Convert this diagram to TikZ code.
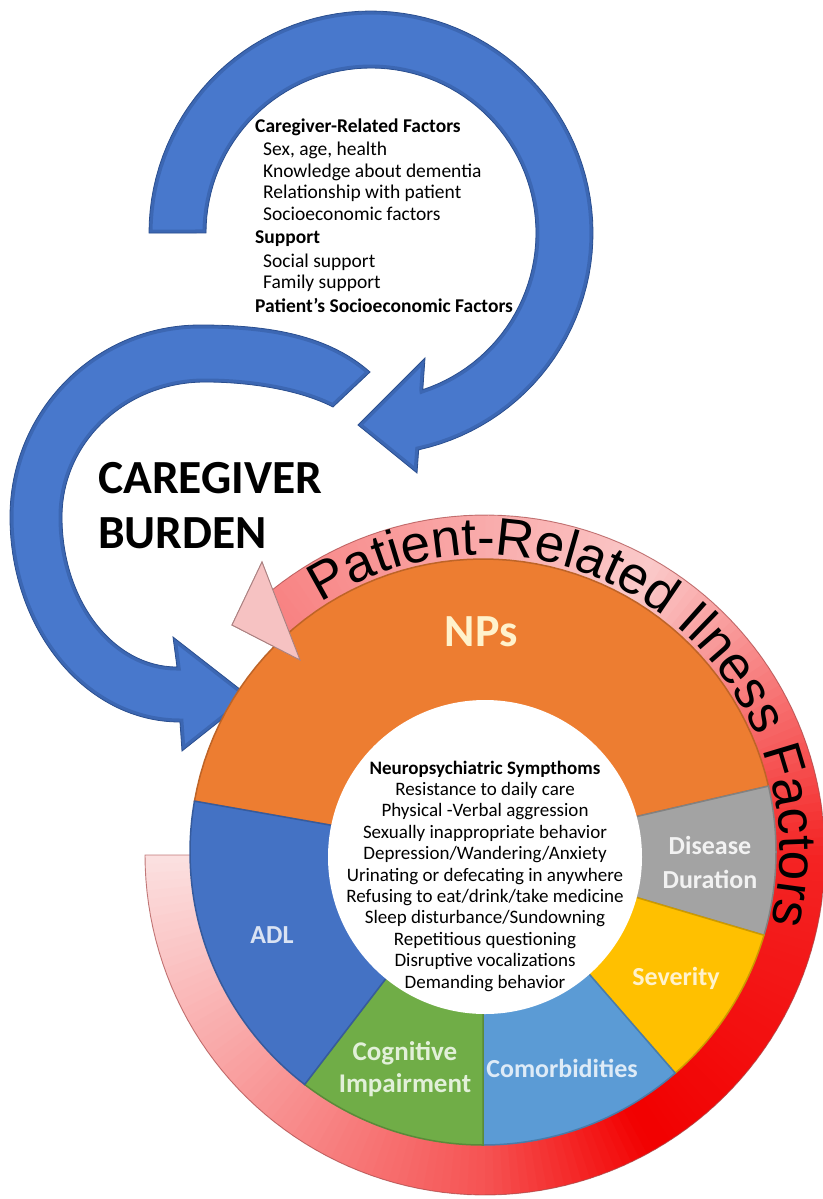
\documentclass[tikz,border=0pt]{standalone}
\usepackage{fontspec}
\setmainfont{Carlito}
\newfontfamily\ringfont{Liberation Sans}
\usetikzlibrary{decorations.text}

\definecolor{arrowblue}{HTML}{4878CC}
\definecolor{arrowdark}{HTML}{2B4F8F}
\definecolor{npsorange}{HTML}{ED7D31}
\definecolor{ddgrey}{HTML}{A3A3A3}
\definecolor{sevyellow}{HTML}{FFC000}
\definecolor{comblue}{HTML}{5B9BD5}
\definecolor{cogreen}{HTML}{70AD47}
\definecolor{adlblue}{HTML}{4472C4}
\definecolor{ringlight}{HTML}{FCEDED}
\definecolor{ringred}{HTML}{F20000}
\definecolor{ringedge}{HTML}{A84848}
\definecolor{headpink}{HTML}{F6C2C2}
\definecolor{headedge}{HTML}{A98282}
\definecolor{npstext}{HTML}{FFF2CC}
\definecolor{adltext}{HTML}{DAE3F3}
\definecolor{cogtext}{HTML}{E2F0D9}
\definecolor{comtext}{HTML}{DEEBF7}
\definecolor{sevtext}{HTML}{FFF2CC}
\definecolor{ddtext}{HTML}{F2F2F2}

% outlines of the three circular arrows
\newcommand\factorarrowpath{plot[domain=180:437.6,samples=90] ({371+222*cos(\x)},{233+222*sin(\x)})
  -- (417,473) -- (358,425) -- (425,358) -- (422.8,389.6)
  -- plot[domain=431.7:180,samples=90] ({371+165*cos(\x)},{233+165*sin(\x)}) -- cycle}
\newcommand\burdenarrowpath{(370,372) .. controls (325,332) and (260,325) .. (200,325)
  .. controls (95,325) and (10,411) .. (10,517)
  .. controls (10,630) and (86,722) .. (180,722)
  -- (182,751) -- (250,697) -- (173,637) -- (177,667)
  .. controls (113,667) and (62,600) .. (62,517)
  .. controls (62,442) and (126,382) .. (205,382)
  .. controls (250,382) and (300,390) .. (333,407) -- cycle}
\newcommand\illnessringpath{plot[domain=180:-128.7,samples=150] ({485+340*cos(\x)},{855+340*sin(\x)})
  -- (262,562) -- (232,625) -- (300,660) -- (295.4,648.2)
  -- plot[domain=-132.5:180,samples=150] ({485+280*cos(\x)},{855+280*sin(\x)}) -- cycle}

% share of red in the ring colour at angle #1
\newcommand\ringredness[1]{%
  \ifdim #1pt>90pt
    \pgfmathsetmacro\rr{5+(180-#1)*60/90}%
  \else\ifdim #1pt>60pt
    \pgfmathsetmacro\rr{65+(90-#1)*35/30}%
  \else\ifdim #1pt>0pt
    \pgfmathsetmacro\rr{100-(60-#1)*15/60}%
  \else\ifdim #1pt>-60pt
    \pgfmathsetmacro\rr{85+(#1)*70/60}%
  \else
    \pgfmathsetmacro\rr{15-(60+#1)*30/70}%
  \fi\fi\fi\fi}

\tikzset{
  cghead/.style={font=\fontsize{19.5}{22}\selectfont\bfseries, inner sep=0pt},
  cgitem/.style={font=\fontsize{19.5}{22}\selectfont, inner sep=0pt},
  nshead/.style={font=\fontsize{19}{21}\selectfont\bfseries, inner sep=0pt},
  nsitem/.style={font=\fontsize{19}{21}\selectfont, inner sep=0pt},
  burden/.style={font=\fontsize{47.5}{55}\selectfont\bfseries, inner sep=0pt},
  seglabel/.style={font=\fontsize{26}{33}\selectfont\bfseries, align=center, inner sep=0pt},
}

\begin{document}
\begin{tikzpicture}[x=1pt, y=-1pt]
\path[use as bounding box, fill=white] (0,0) rectangle (822,1199);

% caregiver-related factors arrow
\fill[arrowblue] \factorarrowpath;
\begin{scope}
  \clip \factorarrowpath;
  \draw[arrowdark, line width=7pt, opacity=.4] \factorarrowpath;
\end{scope}
\draw[arrowdark, line width=.8pt] \factorarrowpath;

% caregiver burden arrow
\fill[arrowblue] \burdenarrowpath;
\begin{scope}
  \clip \burdenarrowpath;
  \draw[arrowdark, line width=7pt, opacity=.4] \burdenarrowpath;
\end{scope}
\draw[arrowdark, line width=.8pt] \burdenarrowpath;

% patient-related illness factors ring, coloured by angle
\begin{scope}
  \clip \illnessringpath;
  \foreach \i in {0,...,224} {
    \pgfmathsetmacro\ta{180-1.5*\i}
    \pgfmathsetmacro\tb{\ta-2.1}
    \pgfmathsetmacro\tm{\ta-0.75}
    \ringredness{\tm}
    \fill[ringred!\rr!ringlight]
      ({485+350*cos(\ta)},{855+350*sin(\ta)}) -- ({485+350*cos(\tb)},{855+350*sin(\tb)})
      -- ({485+270*cos(\tb)},{855+270*sin(\tb)}) -- ({485+270*cos(\ta)},{855+270*sin(\ta)}) -- cycle;
  }
\end{scope}
\draw[ringedge, line width=.9pt, opacity=.7] \illnessringpath;

% wheel of patient-related factors
\foreach \a/\b/\c in {190/347/npsorange, -13/16.5/ddgrey, 16.5/49/sevyellow,
                      49/90/comblue, 90/127.5/cogreen, 127.5/190/adlblue}
  \filldraw[fill=\c, draw=\c!80!black, line width=1.5pt]
    (483,852) -- plot[domain=\a:\b, samples=60] ({483+293*cos(\x)},{852+293*sin(\x)}) -- cycle;
\fill[white] (485,857) circle[radius=157pt];

% arrowhead of the ring, lying over the wheel
\filldraw[fill=headpink, draw=headedge, line width=.9pt] (262,562) -- (232,625) -- (300,660) -- cycle;

% ring caption
\path[decorate, decoration={text along path, text align=center,
  text={|\ringfont\fontsize{53}{53}\selectfont|Patient-Related Ilness Factors}}]
  plot[domain=-127:18, samples=120] ({483+297*cos(\x)},{852+297*sin(\x)});

% caregiver burden
\node[burden, anchor=base west] (cb1) at (98,493) {CAREGIVER};
\node[burden, anchor=base west] (cb2) at (98,548) {BURDEN};

% caregiver-related list
\foreach \txt/\xx/\yy/\st [count=\i] in {
  {Caregiver-Related Factors}/255/132/cghead,
  {Sex, age, health}/263/155/cgitem,
  {Knowledge about dementia}/263/177/cgitem,
  {Relationship with patient}/263/198/cgitem,
  {Socioeconomic factors}/263/220/cgitem,
  {Support}/255/243/cghead,
  {Social support}/263/267/cgitem,
  {Family support}/263/288/cgitem,
  {Patient's Socioeconomic Factors}/255/312/cghead}
  \node[\st, anchor=base west] (cg\i) at (\xx,\yy) {\txt};

% neuropsychiatric symptoms
\node[nshead, anchor=base] (ns0) at (485,774) {Neuropsychiatric Sympthoms};
\foreach \txt [count=\i] in {
  Resistance to daily care,
  Physical -Verbal aggression,
  Sexually inappropriate behavior,
  Depression/Wandering/Anxiety,
  Urinating or defecating in anywhere,
  Refusing to eat/drink/take medicine,
  Sleep disturbance/Sundowning,
  Repetitious questioning,
  Disruptive vocalizations,
  Demanding behavior}
  \node[nsitem, anchor=base] (ns\i) at (485,{774+21.4*\i}) {\txt};

% segment labels
\node[seglabel, text=npstext, font=\fontsize{46}{50}\selectfont\bfseries] (nps) at (481,632) {NPs};
\node[seglabel, text=ddtext, font=\fontsize{26}{34}\selectfont\bfseries] (dd) at (710,862) {Disease\\Duration};
\node[seglabel, text=sevtext] (sev) at (676,978) {Severity};
\node[seglabel, text=comtext] (com) at (562,1068) {Comorbidities};
\node[seglabel, text=cogtext, font=\fontsize{27}{32}\selectfont\bfseries] (cog) at (405,1069) {Cognitive\\Impairment};
\node[seglabel, text=adltext] (adl) at (272,935) {ADL};
\end{tikzpicture}
\end{document}
